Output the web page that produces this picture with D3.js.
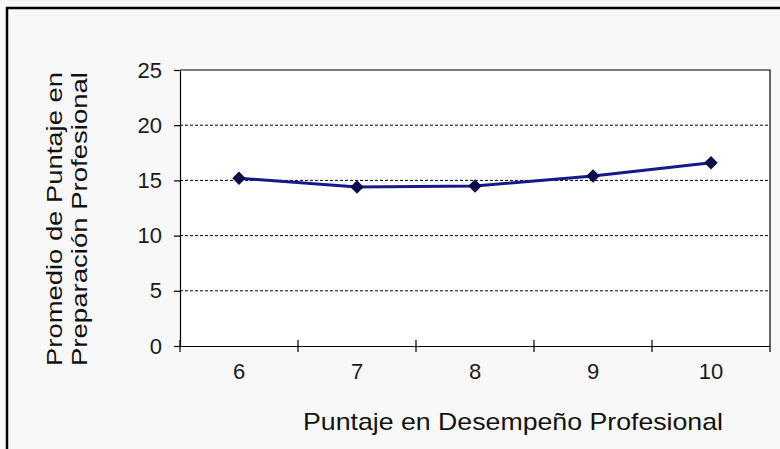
<!DOCTYPE html>
<html>
<head>
<meta charset="utf-8">
<script src="https://cdn.jsdelivr.net/npm/d3@7"></script>
<style>
  body { margin: 0; background: #fff; }
  svg { display: block; font-family: "Liberation Sans", Arial, sans-serif; }
</style>
</head>
<body>
<div id="chart"></div>
<script>
  // Chart data
  var categories = ['6', '7', '8', '9', '10'];
  var values = [15.2, 14.4, 14.5, 15.4, 16.6];
  var yTicks = [0, 5, 10, 15, 20, 25];
  var xTitle = 'Puntaje en Desempeño Profesional';
  var yTitleLines = ['Promedio de Puntaje en', 'Preparación Profesional'];

  var width = 780,
    height = 449,
    plot = { left: 180, right: 770, top: 70, bottom: 346 },
    lineColor = '#18188a',
    markerColor = '#0c0c4a';

  var svg = d3.select('#chart').append('svg')
    .attr('width', width)
    .attr('height', height);

  svg.append('rect')
    .attr('width', width)
    .attr('height', height)
    .attr('fill', '#f8f8f8');

  // Outer frame (top and left edges visible)
  svg.append('line')
    .attr('x1', 6).attr('x2', width)
    .attr('y1', 8).attr('y2', 8)
    .attr('stroke', '#000').attr('stroke-width', 2.5);
  svg.append('line')
    .attr('x1', 7).attr('x2', 7)
    .attr('y1', 7).attr('y2', height)
    .attr('stroke', '#000').attr('stroke-width', 2.5);

  var x = d3.scaleBand()
    .domain(categories)
    .range([plot.left, plot.right])
    .padding(0);

  var y = d3.scaleLinear()
    .domain([0, 25])
    .range([plot.bottom, plot.top]);

  svg.append('rect')
    .attr('x', plot.left)
    .attr('y', plot.top)
    .attr('width', plot.right - plot.left)
    .attr('height', plot.bottom - plot.top)
    .attr('fill', '#fff');

  // Dashed gridlines
  svg.append('g')
    .selectAll('line')
    .data(yTicks.filter(function(d) { return d > 0 && d < 25; }))
    .enter().append('line')
    .attr('x1', plot.left).attr('x2', plot.right)
    .attr('y1', function(d) { return y(d); })
    .attr('y2', function(d) { return y(d); })
    .attr('stroke', '#000')
    .attr('stroke-width', 1)
    .attr('stroke-dasharray', '3,2');

  // Plot border top / right
  svg.append('path')
    .attr('d', 'M' + plot.left + ',' + y(25) + 'H' + plot.right + 'V' + (plot.bottom + 6))
    .attr('fill', 'none')
    .attr('stroke', '#000')
    .attr('stroke-width', 1.2);

  // Y axis
  var yAxis = svg.append('g')
    .attr('transform', 'translate(' + plot.left + ',0)')
    .call(d3.axisLeft(y).tickValues(yTicks).tickSize(6).tickSizeOuter(0).tickPadding(12));

  yAxis.select('.domain').attr('stroke', '#000').attr('stroke-width', 1.2);
  yAxis.selectAll('.tick line').attr('stroke', '#000').attr('stroke-width', 1.2);
  yAxis.selectAll('.tick text')
    .attr('font-family', '"Liberation Sans", Arial, sans-serif')
    .attr('font-size', 22)
    .attr('fill', '#1a1a1a');

  // X axis (labels centred, ticks between categories)
  var xAxis = svg.append('g')
    .attr('transform', 'translate(0,' + plot.bottom + ')')
    .call(d3.axisBottom(x).tickSize(0).tickPadding(17));

  xAxis.select('.domain').attr('stroke', '#000').attr('stroke-width', 1.2);
  xAxis.selectAll('.tick text')
    .attr('font-family', '"Liberation Sans", Arial, sans-serif')
    .attr('font-size', 22)
    .attr('fill', '#1a1a1a');

  svg.append('g')
    .selectAll('line')
    .data(categories)
    .enter().append('line')
    .attr('x1', function(d) { return x(d); })
    .attr('x2', function(d) { return x(d); })
    .attr('y1', plot.bottom - 6)
    .attr('y2', plot.bottom + 6)
    .attr('stroke', '#000')
    .attr('stroke-width', 1.2);

  // Series line
  var line = d3.line()
    .x(function(d, i) { return x(categories[i]) + x.bandwidth() / 2; })
    .y(function(d) { return y(d); });

  svg.append('path')
    .datum(values)
    .attr('d', line)
    .attr('fill', 'none')
    .attr('stroke', lineColor)
    .attr('stroke-width', 3);

  svg.append('g')
    .selectAll('path')
    .data(values)
    .enter().append('path')
    .attr('d', d3.symbol().type(d3.symbolDiamond2).size(115))
    .attr('transform', function(d, i) {
      return 'translate(' + (x(categories[i]) + x.bandwidth() / 2) + ',' + y(d) + ')';
    })
    .attr('fill', markerColor);

  // Axis titles
  svg.append('text')
    .attr('x', 303)
    .attr('y', 430)
    .attr('font-size', 24)
    .attr('fill', '#111')
    .attr('textLength', 420)
    .attr('lengthAdjust', 'spacingAndGlyphs')
    .text(xTitle);

  svg.append('g')
    .selectAll('text')
    .data(yTitleLines)
    .enter().append('text')
    .attr('transform', function(d, i) { return 'translate(' + (62 + i * 25) + ',219) rotate(-90)'; })
    .attr('text-anchor', 'middle')
    .attr('font-size', 22)
    .attr('fill', '#111')
    .attr('textLength', 294)
    .attr('lengthAdjust', 'spacingAndGlyphs')
    .text(function(d) { return d; });
</script>
</body>
</html>
